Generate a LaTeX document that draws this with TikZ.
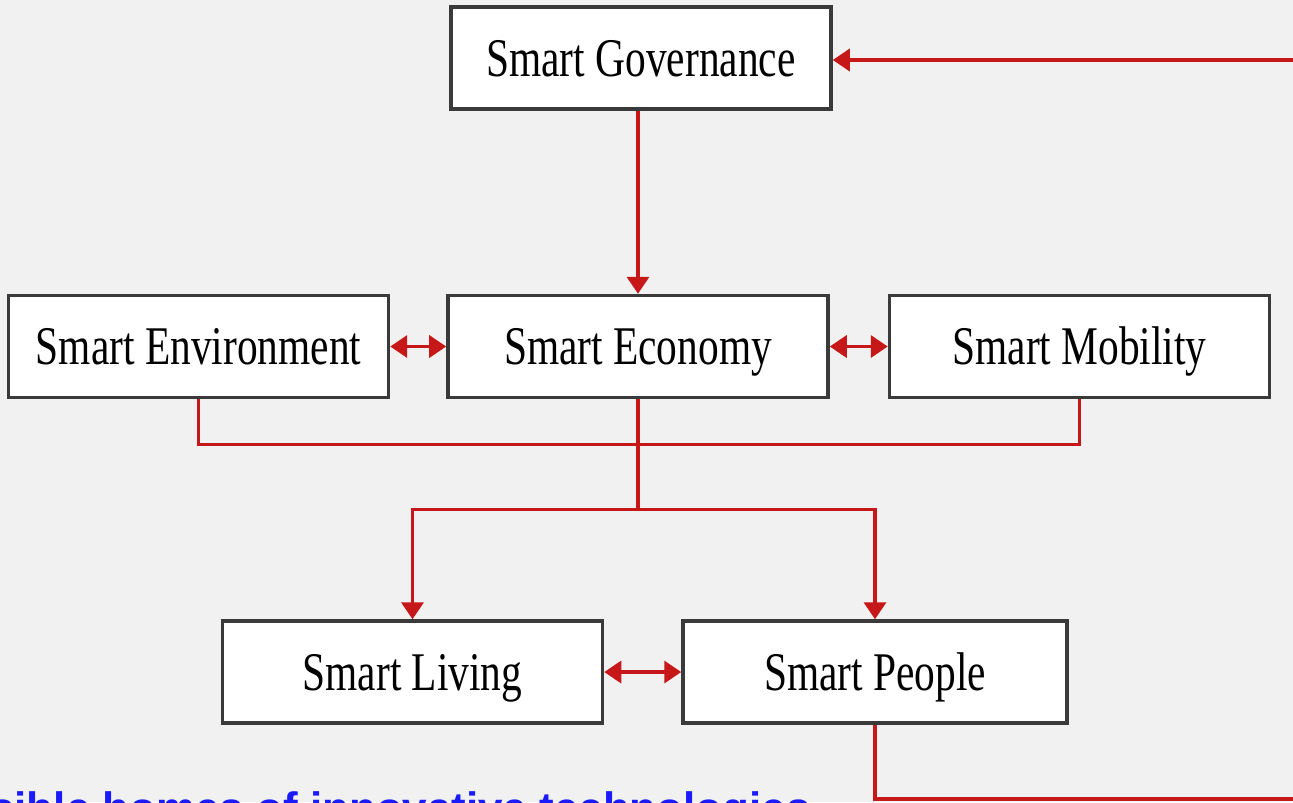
\documentclass[tikz,border=0pt]{standalone}
\usepackage{fontspec}
\setmainfont{Liberation Serif}
\newfontfamily\boxfont[FakeStretch=0.76]{Liberation Serif}
\newfontfamily\capfont{Liberation Sans}
\usetikzlibrary{positioning,arrows.meta}
\definecolor{pagegray}{RGB}{241,241,241}
\definecolor{linkred}{RGB}{198,24,24}
\definecolor{boxedge}{RGB}{58,58,58}
\definecolor{capblue}{RGB}{26,26,250}

\begin{document}
\begin{tikzpicture}[
smartbox/.style={fill=white,draw=boxedge,line width=2pt,
  minimum width=7.6cm,minimum height=2.04cm,
  inner sep=0pt,text height=20.5pt,text depth=0pt,
  font=\boxfont\fontsize{31}{36}\selectfont
},
link/.style={draw=linkred,line width=2pt},
tip/.style={link,-{Triangle[length=0.34cm,width=0.44cm]}},
both/.style={link,{Triangle[length=0.34cm,width=0.44cm]}-{Triangle[length=0.34cm,width=0.44cm]}}
]

\useasboundingbox (0,0) rectangle (25.86,-16.04);
\fill [pagegray] (0,0) rectangle (25.86,-16.04);

\node (gov) [smartbox] at (12.82,-1.16) {Smart Governance};
\node (econ) [smartbox, below=3.66cm of gov, xshift=-0.06cm] {Smart Economy};
\node (env) [smartbox, left=1.12cm of econ] {Smart Environment};
\node (mob) [smartbox, right=1.16cm of econ] {Smart Mobility};
\node (live) [smartbox, below=4.4cm of econ, xshift=-4.51cm] {Smart Living};
\node (people) [smartbox, below=4.4cm of econ, xshift=4.74cm, minimum width=7.68cm] {Smart People};

\coordinate (govin) at (25.9,-1.2);
\coordinate (peopleout) at (25.9,-15.98);
\coordinate (split) at ([yshift=-2.2cm]econ.south);

\draw [tip] (govin) -- (gov.east |- govin);
\draw [tip] (gov.south -| econ.north) -- (econ.north);
\draw [both] (env) -- (econ);
\draw [both] (econ) -- (mob);
\draw [link] (env.south) -- ++(0,-0.9) -| (mob.south);
\draw [link] (econ.south) -- (split);
\draw [tip] (split) -| (live.north);
\draw [tip] (split) -| (people.north);
\draw [both] (live) -- (people);
\draw [link] (people.south) |- (peopleout);

\begin{scope}
\clip (0,0) rectangle (25.86,-16.04);
\node (caption) [anchor=base west, inner sep=0pt, text=capblue,
  font=\capfont\bfseries\fontsize{25}{30}\selectfont] at (-0.2,-16.46)
  {sible homes of innovative technologies};
\end{scope}

\end{tikzpicture}
\end{document}
